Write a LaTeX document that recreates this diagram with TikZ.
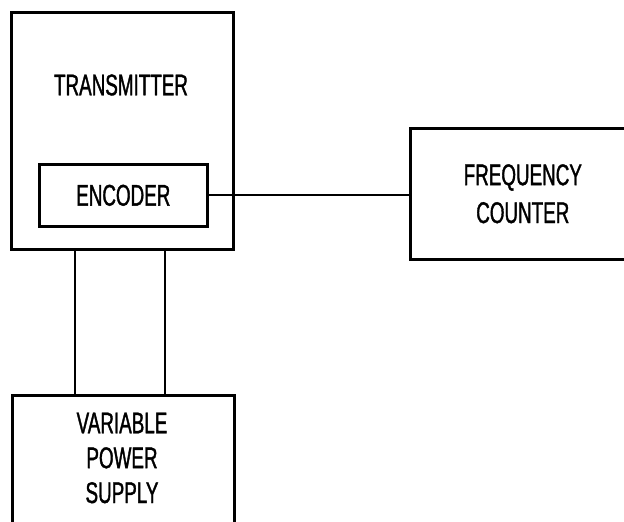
\documentclass[tikz,border=0pt]{standalone}
\usepackage{fontspec}
\setmainfont[FakeStretch=0.63,FakeBold=1.2]{Liberation Sans}
\begin{document}
\begin{tikzpicture}[x=1bp,y=-1bp,
  box/.style={draw,line width=2.6bp,inner sep=0pt,anchor=north west},
  wire/.style={line width=2.2bp},
  lbl/.style={font=\fontsize{30}{36}\selectfont,align=center,inner sep=0pt}]
\useasboundingbox (0,0) rectangle (624,522);
\clip (0,0) rectangle (624,522);
\fill[white] (0,0) rectangle (624,522);
\node[box,minimum width=222bp,minimum height=237bp] (tx) at (10,11) {};
\node[lbl] (txl) at (121,85) {TRANSMITTER};
\node[box,minimum width=168bp,minimum height=62bp,lbl,anchor=north west] (enc) at (38,163) {ENCODER};
\node[box,minimum width=225bp,minimum height=131bp,lbl,anchor=north west,font=\fontsize{30}{38}\selectfont] (fc) at (409,127) {FREQUENCY\\COUNTER};
\node[box,minimum width=222bp,minimum height=150bp] (ps) at (11,394) {};
\node[lbl,font=\fontsize{30}{35}\selectfont] (psl) at (122,458) {VARIABLE\\POWER\\SUPPLY};
\coordinate (p1) at (75,0);
\coordinate (p2) at (165,0);
\draw[wire] (enc.east) -- (enc.east -| fc.west);
\draw[wire] (tx.south -| p1) -- (ps.north -| p1);
\draw[wire] (tx.south -| p2) -- (ps.north -| p2);
\end{tikzpicture}
\end{document}
